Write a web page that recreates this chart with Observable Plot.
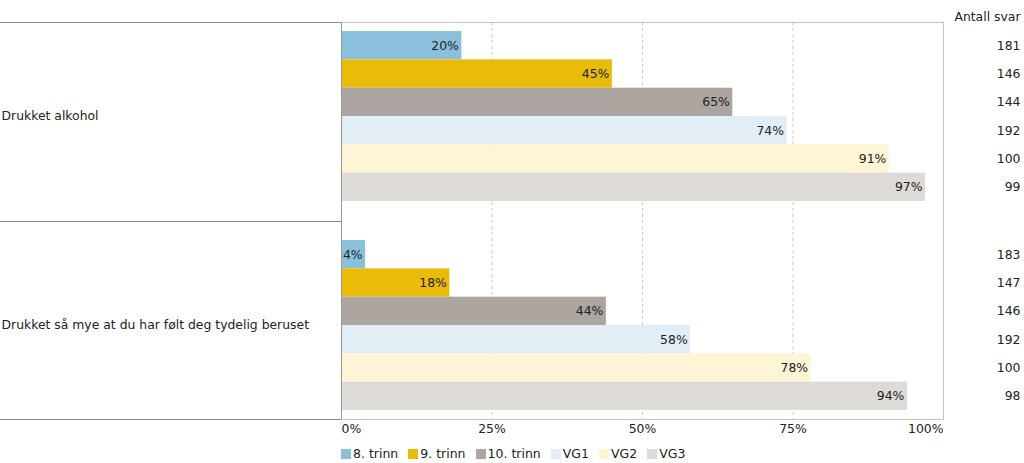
<!DOCTYPE html>
<html>
<head>
<meta charset="utf-8">
<script src="https://cdn.jsdelivr.net/npm/d3@7"></script>
<script src="https://cdn.jsdelivr.net/npm/@observablehq/plot@0.6"></script>
<style>
  body { margin: 0; background: #fff; font-family: "DejaVu Sans", Verdana, sans-serif; }
  #legend { display: flex; align-items: center; margin-left: 341px; padding-top: 7px; font-size: 12.5px; color: #222; line-height: 14px; }
  #legend .item { display: flex; align-items: center; margin-right: 10px; }
  #legend .sw { width: 10px; height: 10px; margin-right: 2px; }
</style>
</head>
<body>
<div id="chart"></div>
<script>
const groups = ["Drukket alkohol", "Drukket så mye at du har følt deg tydelig beruset"];
const grades = ["8. trinn", "9. trinn", "10. trinn", "VG1", "VG2", "VG3"];
const gradeColors = ["#8bc0dd", "#e9bc0a", "#ada59f", "#e2edf6", "#fdf5d5", "#dedad7"];
const valuesAlkohol = [20, 45, 65, 74, 91, 97];
const valuesBeruset = [4, 18, 44, 58, 78, 94];
const countsAlkohol = [181, 146, 144, 192, 100, 99];
const countsBeruset = [183, 147, 146, 192, 100, 98];
const xTicks = [0, 25, 50, 75, 100];
const countHeader = "Antall svar";

// layout in row units
const gap = 1.38, pad = 0.32, n = grades.length;
const valueSets = [valuesAlkohol, valuesBeruset];
const countSets = [countsAlkohol, countsBeruset];
const data = [];
groups.forEach((g, gi) => grades.forEach((gr, j) => {
  data.push({group: g, grade: gr, value: valueSets[gi][j], count: countSets[gi][j], row: gi * (n + gap) + j});
}));
const groupCenters = groups.map((g, gi) => ({group: g, c: gi * (n + gap) + n / 2}));
const yMin = -pad, yMax = 2 * n + gap + pad;
const boundaries = [yMin, n + gap / 2, yMax];

const leftPanel = (index, scales, values, dimensions) => {
  const g = d3.create("svg:g");
  for (const b of boundaries) {
    const y = Math.round(scales.y(b)) + 0.5;
    g.append("line").attr("x1", 0).attr("x2", dimensions.marginLeft).attr("y1", y).attr("y2", y)
      .attr("stroke", "#8a8a8a").attr("stroke-width", 1.2);
  }
  return g.node();
};

const plot = Plot.plot({
  width: 1024,
  height: 440,
  marginLeft: 341,
  marginRight: 81,
  marginTop: 22,
  marginBottom: 21,
  style: {fontFamily: "DejaVu Sans, Verdana, sans-serif", fontSize: "12.4px", color: "#222"},
  x: {domain: [0, 100], axis: null},
  y: {type: "linear", domain: [yMin, yMax], reverse: true, axis: null},
  color: {domain: grades, range: gradeColors},
  marks: [
    Plot.ruleX(xTicks.slice(1, -1), {stroke: "#c8c8c8", strokeDasharray: "3,3"}),
    Plot.rect(data, {x1: 0, x2: "value", y1: "row", y2: d => d.row + 1, fill: "grade"}),
    Plot.text(data, {x: "value", y: d => d.row + 0.5, text: d => d.value + "%", textAnchor: "end", dx: -3, fill: "#222"}),
    Plot.frame({stroke: "#c4c4c4"}),
    Plot.ruleX([0], {stroke: "#9a9a9a"}),
    leftPanel,
    Plot.text(groupCenters, {y: "c", text: "group", frameAnchor: "left", textAnchor: "start", dx: -340, fill: "#222"}),
    Plot.text(data, {y: d => d.row + 0.5, text: "count", frameAnchor: "right", textAnchor: "end", dx: 77, fill: "#222"}),
    Plot.text([countHeader], {text: d => d, frameAnchor: "top-right", textAnchor: "end", dx: 77, dy: -10, fill: "#222"}),
    Plot.text(xTicks.slice(0, 1), {x: d => d, text: d => d + "%", frameAnchor: "bottom", textAnchor: "start", dy: 13, fill: "#222"}),
    Plot.text(xTicks.slice(1, -1), {x: d => d, text: d => d + "%", frameAnchor: "bottom", textAnchor: "middle", dy: 13, fill: "#222"}),
    Plot.text(xTicks.slice(-1), {x: d => d, text: d => d + "%", frameAnchor: "bottom", textAnchor: "end", dy: 13, fill: "#222"})
  ]
});
document.getElementById("chart").append(plot);

const legend = d3.select("body").append("div").attr("id", "legend");
grades.forEach((g, i) => {
  const item = legend.append("div").attr("class", "item");
  item.append("div").attr("class", "sw").style("background", gradeColors[i]);
  item.append("span").text(g);
});
</script>
</body>
</html>
